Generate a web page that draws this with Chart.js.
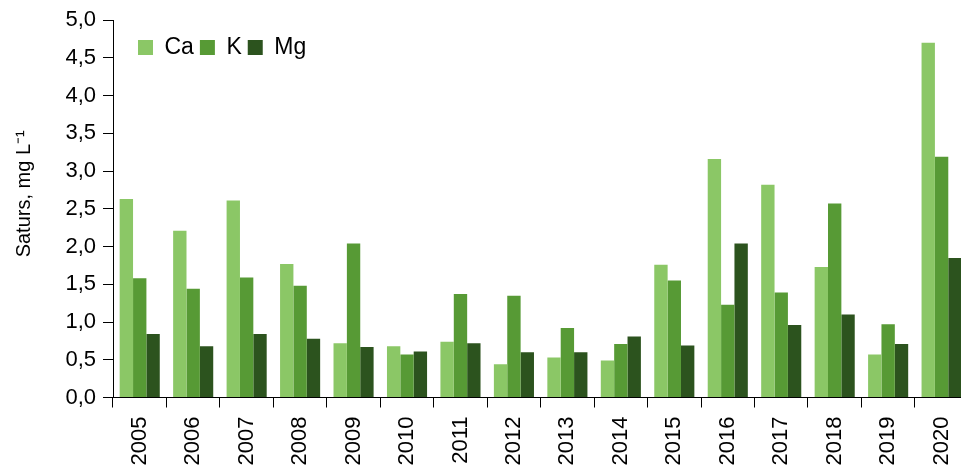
<!DOCTYPE html>
<html>
<head>
<meta charset="utf-8">
<script src="https://cdn.jsdelivr.net/npm/chart.js@4"></script>
<style>
  html, body { margin: 0; padding: 0; background: #fff; overflow: hidden; }
  #wrap { width: 977px; height: 471px; }
</style>
</head>
<body>
<div id="wrap"><canvas id="bar-chart"></canvas></div>
<script>
var years = ["2005", "2006", "2007", "2008", "2009", "2010", "2011", "2012",
	"2013", "2014", "2015", "2016", "2017", "2018", "2019", "2020"];
var ca = [2.63, 2.21, 2.61, 1.77, 0.72, 0.68, 0.74, 0.44, 0.53, 0.49, 1.76, 3.16, 2.82, 1.73, 0.57, 4.70];
var k  = [1.58, 1.44, 1.59, 1.48, 2.04, 0.57, 1.37, 1.35, 0.92, 0.71, 1.55, 1.23, 1.39, 2.57, 0.97, 3.19];
var mg = [0.84, 0.68, 0.84, 0.78, 0.67, 0.61, 0.72, 0.60, 0.60, 0.81, 0.69, 2.04, 0.96, 1.10, 0.71, 1.85];

var font = "'Liberation Sans', Arial, sans-serif";

// legend sits in one row at the top-left of the plot like the original
var legendRow = {
	id: 'legendRow',
	afterUpdate: function(chart) {
		var lg = chart.legend;
		lg.maxHeight = 40;
		lg.fit();
		lg.top = 30;
		lg.bottom = lg.top + 40;
		lg.left = chart.chartArea.left + 19;
	}
};

new Chart(document.getElementById("bar-chart"), {
	type: 'bar',
	data: {
		labels: years,
		datasets: [{
				data: ca,
				label: "Ca",
				backgroundColor: "#8BC766"
			}, {
				data: k,
				label: "K",
				backgroundColor: "#579A35"
			}, {
				data: mg,
				label: "Mg",
				backgroundColor: "#2C531E"
			}
		]
	},
	options: {
		responsive: true,
		maintainAspectRatio: false,
		animation: false,
		layout: { padding: { top: 18, right: 0, left: 0, bottom: 0 } },
		datasets: { bar: { categoryPercentage: 0.75, barPercentage: 1.0 } },
		plugins: {
			legend: {
				position: 'chartArea',
				align: 'start',
				labels: {
					boxWidth: 15,
					boxHeight: 15,
					padding: 6,
					color: '#000',
					font: { family: font, size: 23 }
				}
			},
			tooltip: { enabled: false }
		},
		scales: {
			x: {
				grid: { display: true, drawOnChartArea: false, tickLength: 10, color: '#000', offset: true },
				border: { display: true, color: '#000', width: 1 },
				ticks: { minRotation: 90, maxRotation: 90, padding: 9, color: '#000', font: { family: font, size: 22 } },
				afterFit: function(scale) { scale.height = 73.5; }
			},
			y: {
				min: 0,
				max: 5,
				grid: { display: true, drawOnChartArea: false, tickLength: 10, color: '#000' },
				border: { display: true, color: '#000', width: 1 },
				ticks: {
					stepSize: 0.5,
					padding: 7,
					color: '#000',
					font: { family: font, size: 22 },
					callback: function(v) { return v.toFixed(1).replace('.', ','); }
				},
				title: {
					display: true,
					text: '\u2003\u2002Saturs, mg L\u207B\u00B9',
					color: '#000',
					padding: { top: 12, bottom: 0 },
					font: { family: font, size: 20 }
				},
				afterFit: function(scale) { scale.width = 113; }
			}
		}
	},
	plugins: [legendRow]
});
</script>
</body>
</html>
